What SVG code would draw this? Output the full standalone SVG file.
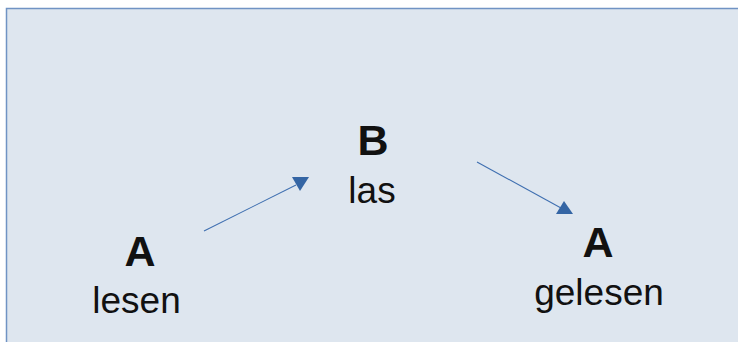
<svg xmlns="http://www.w3.org/2000/svg" width="738" height="342" viewBox="0 0 738 342">
  <style>
    .bg { fill: #dee6ef; stroke: #7093c4; stroke-width: 1.5; }
    .head { font-family: "Liberation Sans", Arial, sans-serif; font-weight: bold; font-size: 43px; fill: #111111; text-anchor: middle; }
    .word { font-family: "Liberation Sans", Arial, sans-serif; font-size: 37px; fill: #111111; text-anchor: middle; }
    .link { stroke: #3f6fb0; stroke-width: 1.1; fill: none; }
    .tip { fill: #3465a4; }
  </style>
  <rect class="bg" x="6.5" y="8.5" width="760" height="360"/>

  <g id="node-a-lesen">
    <text class="head" x="140" y="266">A</text>
    <text class="word" x="136.5" y="313">lesen</text>
  </g>

  <g id="node-b-las">
    <text class="head" x="373" y="155">B</text>
    <text class="word" x="372" y="203">las</text>
  </g>

  <g id="node-a-gelesen">
    <text class="head" x="598" y="257">A</text>
    <text class="word" x="599" y="305">gelesen</text>
  </g>

  <g id="connectors">
    <line class="link" x1="204" y1="231" x2="296" y2="185"/>
    <polygon class="tip" points="292,177 309,177 300,191"/>
    <line class="link" x1="477" y1="162" x2="561" y2="208"/>
    <polygon class="tip" points="556,214 573,214 564,201"/>
  </g>
</svg>
